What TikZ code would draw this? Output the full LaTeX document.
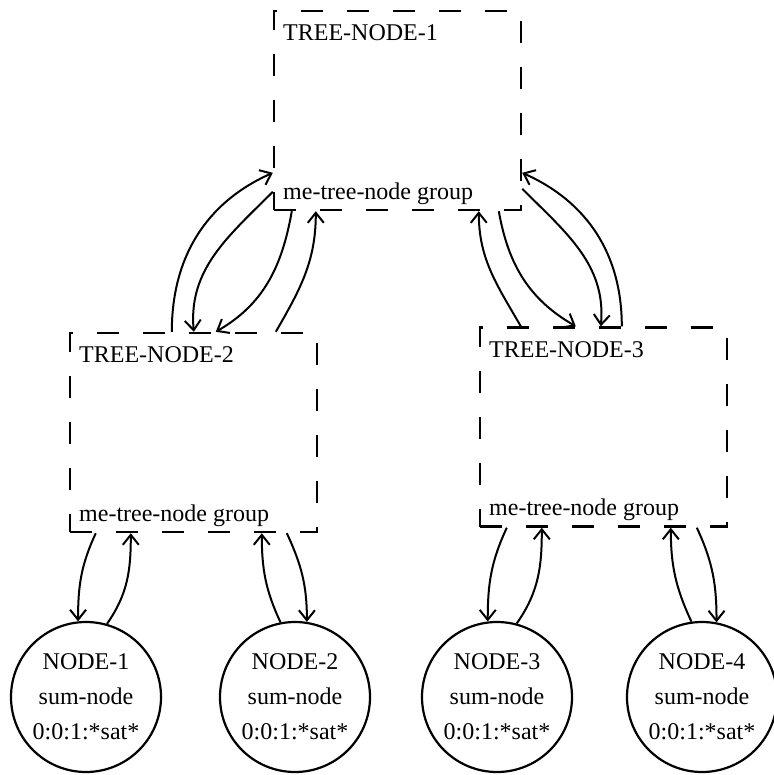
\documentclass[tikz,border=0pt]{standalone}
\usepackage{fontspec}
\setmainfont{Liberation Serif}
\usepackage{tikz}
\usetikzlibrary{positioning, calc, arrows.meta}

\tikzset{
  treebox/.style={draw, line width=1.2pt, dash pattern=on 11pt off 12pt,
    minimum width=123.5pt, minimum height=99.5pt, inner sep=0pt},
  boxlabel/.style={inner sep=0pt, anchor=base west},
  sumnode/.style={draw, circle, line width=1.1pt, minimum size=75pt,
    inner sep=0pt, align=center},
  link/.style={line width=1pt, -{Straight Barb[length=5pt,width=8pt]}},
}

\begin{document}
\begin{tikzpicture}[x=0.5pt, y=0.5pt, font=\fontsize{12}{17.5}\selectfont]
  \useasboundingbox (0,0) rectangle (774,-775);
  % dashed tree nodes
  \node[treebox] (tn1) at (397.5,-110.5) {};
  \node[treebox] (tn2) at (193.5,-432.5) {};
  \node[treebox] (tn3) at (603.5,-427) {};
  % title on top, group name at the bottom of each box
  \foreach \t/\k in {tn1/1, tn2/2, tn3/3} {
    \node[boxlabel] (\t-title) at ([xshift=5pt,yshift=-15.5pt]\t.north west) {TREE-NODE-\k};
    \node[boxlabel] (\t-group) at ([xshift=5pt,yshift=6pt]\t.south west) {me-tree-node group};
  }
  % leaf sum-nodes
  \node[sumnode] (n1) at (86,-697) {NODE-1\\sum-node\\0:0:1:*sat*};
  \node[sumnode] (n2) at (295,-697) {NODE-2\\sum-node\\0:0:1:*sat*};
  \node[sumnode] (n3) at (497,-697) {NODE-3\\sum-node\\0:0:1:*sat*};
  \node[sumnode] (n4) at (702,-697) {NODE-4\\sum-node\\0:0:1:*sat*};
  % links between TREE-NODE-1 and TREE-NODE-2
  \draw[link] ([xshift=51.5pt]tn2.north west) to[out=90, in=204] ([yshift=-81.5pt]tn1.north west);
  \draw[link] ([yshift=-91pt]tn1.north west) to[out=225, in=95] ([xshift=62.5pt]tn2.north west);
  \draw[link] ([xshift=9.5pt]tn1.south west) to[out=260, in=30] ([xshift=73.5pt]tn2.north west);
  \draw[link] ([xshift=103.5pt]tn2.north west) to[out=60, in=-90] ([xshift=21.5pt]tn1.south west);
  % links between TREE-NODE-1 and TREE-NODE-3
  \draw[link] ([xshift=21pt]tn3.north west) to[out=120, in=-90] ([xshift=103pt]tn1.south west);
  \draw[link] ([xshift=113pt]tn1.south west) to[out=-80, in=150] ([xshift=48.5pt]tn3.north west);
  \draw[link] ([yshift=-89.5pt]tn1.north east) to[out=-45, in=85] ([xshift=61pt]tn3.north west);
  \draw[link] ([xshift=71.5pt]tn3.north west) to[out=90, in=-24] ([yshift=-81.5pt]tn1.north east);
  % links down to the sum-nodes
  \draw[link] ([xshift=13.5pt]tn2.south west) to[out=245, in=90] (n1.96);
  \draw[link] (n1.74) to[out=55, in=-90] ([xshift=31pt]tn2.south west);
  \draw[link] (n2.101) to[out=115, in=-90] ([xshift=96.5pt]tn2.south west);
  \draw[link] ([xshift=109pt]tn2.south west) to[out=-65, in=90] (n2.81);
  \draw[link] ([xshift=14pt]tn3.south west) to[out=245, in=90] (n3.97);
  \draw[link] (n3.75) to[out=55, in=-90] ([xshift=31.5pt]tn3.south west);
  \draw[link] (n4.98) to[out=115, in=-90] ([xshift=96pt]tn3.south west);
  \draw[link] ([xshift=109pt]tn3.south west) to[out=-65, in=90] (n4.79);
\end{tikzpicture}
\end{document}
